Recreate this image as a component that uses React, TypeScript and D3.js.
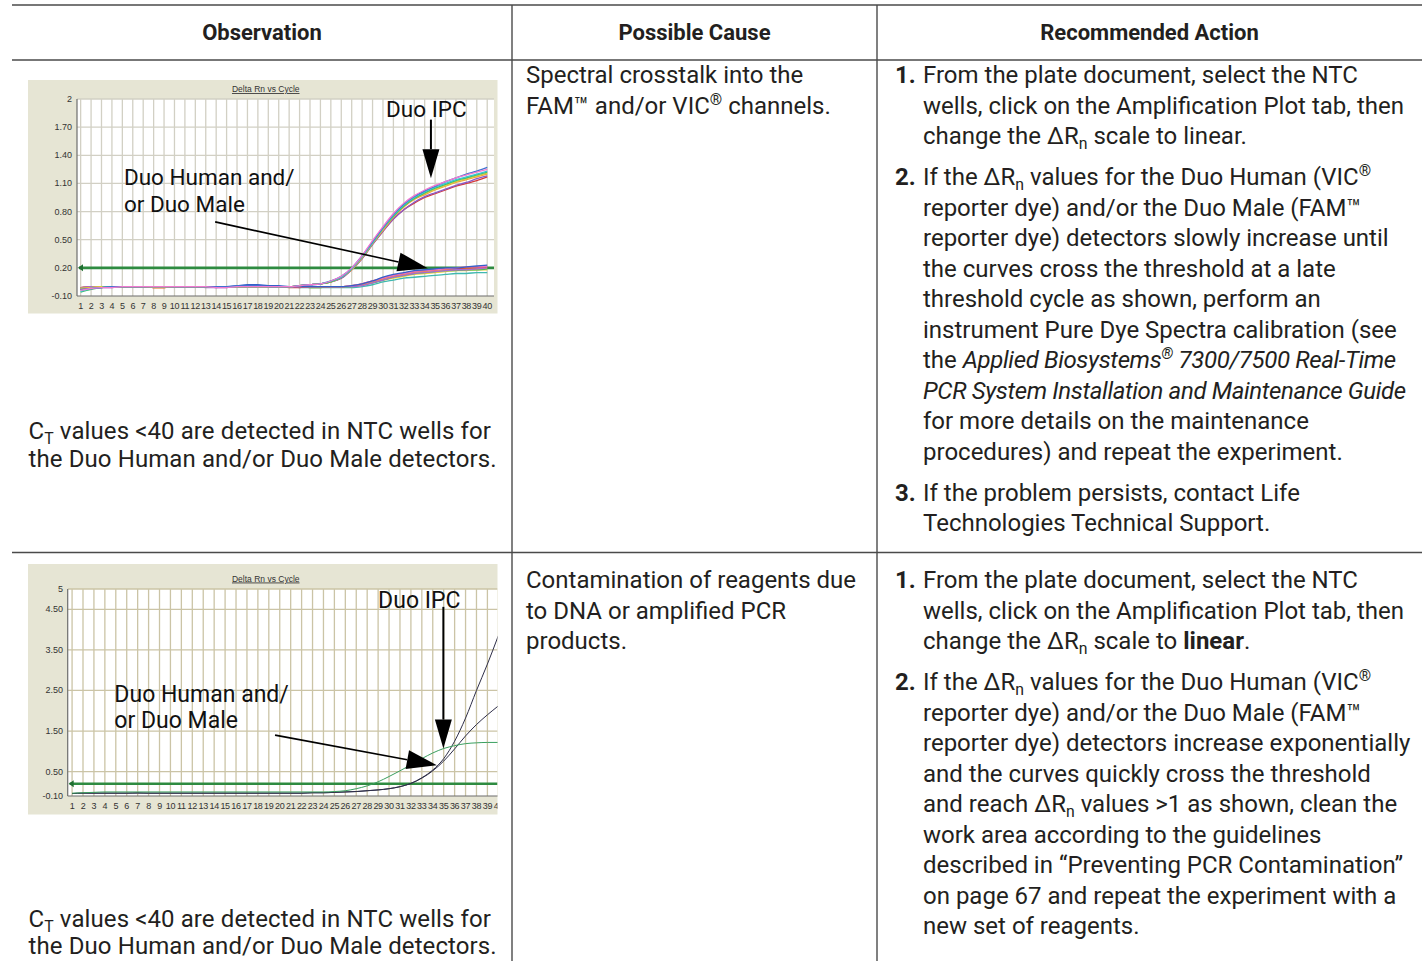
import React from "react";
import * as d3 from "d3";

// ---- data -------------------------------------------------------------

const cycleTicks = [
  1, 2, 3, 4, 5, 6, 7, 8, 9, 10, 11, 12, 13, 14, 15, 16, 17, 18, 19, 20,
  21, 22, 23, 24, 25, 26, 27, 28, 29, 30, 31, 32, 33, 34, 35, 36, 37, 38, 39, 40,
];

const yTicks1 = [-0.1, 0.2, 0.5, 0.8, 1.1, 1.4, 1.7, 2];
const yLabels1 = ["-0.10", "0.20", "0.50", "0.80", "1.10", "1.40", "1.70", "2"];
const yTicks2 = [-0.1, 0.5, 1.5, 2.5, 3.5, 4.5, 5];
const yLabels2 = ["-0.10", "0.50", "1.50", "2.50", "3.50", "4.50", "5"];

const thresholdValue = 0.2;

// plot 1: Duo IPC curves (spectral crosstalk)
const ipcPink = [-0.04, -0.02, -0.01, -0.01, 0, 0, 0, 0, 0, 0, 0, 0, 0, -0.01, -0.01, 0, 0, 0, 0, 0, 0, 0.01, 0.02, 0.03, 0.06, 0.11, 0.2, 0.33, 0.49, 0.64, 0.78, 0.89, 0.97, 1.03, 1.08, 1.12, 1.16, 1.19, 1.22, 1.25];
const ipcBlue = [-0.03, -0.02, -0.01, 0, 0, 0, 0, 0, 0, 0, 0, 0, 0, 0, 0, 0.01, 0.01, 0.01, 0, 0, 0, 0.01, 0.02, 0.03, 0.06, 0.11, 0.2, 0.33, 0.48, 0.63, 0.77, 0.88, 0.96, 1.02, 1.07, 1.12, 1.16, 1.2, 1.23, 1.27];
const ipcCyan = [-0.05, -0.02, -0.01, 0, 0, 0, 0, 0, 0, 0, 0, 0, 0, 0, 0, 0, 0, 0, 0, 0, 0, 0.01, 0.02, 0.03, 0.06, 0.1, 0.19, 0.32, 0.47, 0.62, 0.76, 0.87, 0.95, 1.01, 1.06, 1.1, 1.14, 1.17, 1.2, 1.23];
const ipcGreen = [-0.06, -0.03, -0.01, 0, 0, 0, 0, 0, 0, 0, 0, 0, 0, 0, 0, 0, 0, 0, 0, 0, 0, 0.01, 0.02, 0.03, 0.05, 0.1, 0.19, 0.32, 0.47, 0.62, 0.75, 0.86, 0.94, 1.0, 1.05, 1.09, 1.13, 1.16, 1.19, 1.22];
const ipcYellow = [-0.02, -0.01, 0, 0, 0, 0, 0, 0, 0, 0, 0, 0, 0, 0, 0, 0, 0, 0, 0, 0, 0, 0.01, 0.02, 0.03, 0.05, 0.1, 0.19, 0.31, 0.46, 0.61, 0.75, 0.86, 0.94, 0.99, 1.04, 1.08, 1.12, 1.15, 1.18, 1.21];
const ipcOrange = [-0.02, -0.01, 0, 0, 0, 0, 0, -0.01, -0.01, 0, 0, 0, 0, 0, 0, 0, 0, 0, 0, 0, 0, 0.01, 0.02, 0.03, 0.05, 0.1, 0.18, 0.31, 0.46, 0.6, 0.74, 0.85, 0.93, 0.98, 1.03, 1.07, 1.11, 1.14, 1.17, 1.2];
const ipcRed = [-0.03, -0.02, -0.01, 0, 0, 0, 0, 0, 0, 0, 0, 0, 0, 0, 0, 0, 0, 0, 0, 0, 0, 0.01, 0.02, 0.03, 0.05, 0.09, 0.18, 0.3, 0.45, 0.59, 0.72, 0.82, 0.89, 0.95, 0.99, 1.03, 1.07, 1.1, 1.13, 1.17];
const ipcPurple = [-0.03, -0.02, -0.01, -0.01, 0, 0, 0, 0, 0, 0, 0, 0, 0, -0.01, -0.01, 0, 0, 0, 0, 0, 0, 0.01, 0.02, 0.03, 0.05, 0.09, 0.18, 0.3, 0.45, 0.59, 0.72, 0.82, 0.9, 0.96, 1.0, 1.04, 1.08, 1.11, 1.15, 1.18];

// plot 1: Duo Human / Duo Male curves
const lowBlue = [-0.02, -0.01, 0, 0, 0, 0, 0, 0, 0, 0, 0, 0, 0, 0, 0, 0.01, 0.02, 0.02, 0.01, 0.01, 0, 0, 0, 0, 0, 0, 0.01, 0.03, 0.06, 0.1, 0.13, 0.15, 0.17, 0.18, 0.19, 0.2, 0.2, 0.21, 0.22, 0.23];
const lowRed = [-0.01, 0, 0, 0, 0, 0, 0, -0.01, -0.01, 0, 0, 0, 0, 0, 0, 0, 0, 0, 0, 0, -0.01, -0.01, 0, 0, 0, 0, 0.01, 0.03, 0.06, 0.09, 0.12, 0.14, 0.16, 0.17, 0.18, 0.19, 0.19, 0.2, 0.2, 0.21];
const lowOrange = [-0.01, -0.01, 0, 0, 0, 0, 0, -0.01, -0.01, 0, 0, 0, 0, 0, 0, 0, 0, 0, 0, 0, 0, 0, 0, 0, 0, 0, 0.01, 0.02, 0.05, 0.08, 0.11, 0.13, 0.15, 0.16, 0.17, 0.18, 0.18, 0.19, 0.19, 0.2];
const lowGreen = [-0.03, -0.01, 0, 0, 0, 0, 0, 0, 0, 0, 0, 0, 0, 0, 0, 0, 0, 0, 0, 0, 0, 0, -0.01, -0.01, 0, 0, 0, 0.02, 0.04, 0.07, 0.1, 0.12, 0.14, 0.15, 0.16, 0.17, 0.17, 0.18, 0.18, 0.19];
const lowPink = [-0.02, -0.01, 0, 0, 0, 0, 0, 0, 0, 0, 0, 0, 0, 0, 0, 0, 0, 0, 0, 0, 0, 0, 0, 0, 0, 0, 0.01, 0.03, 0.06, 0.09, 0.12, 0.14, 0.16, 0.17, 0.18, 0.19, 0.2, 0.21, 0.21, 0.22];
const lowYellow = [-0.01, 0, 0, 0, 0, 0, 0, 0, 0, 0, 0, 0, 0, 0, 0, 0, 0, 0, 0, 0, 0, 0, -0.01, -0.01, 0, 0, 0, 0.02, 0.04, 0.07, 0.09, 0.11, 0.13, 0.14, 0.15, 0.16, 0.17, 0.17, 0.18, 0.18];
const lowCyan = [-0.02, -0.01, 0, 0, 0, 0, 0, 0, 0, 0, 0, 0, 0, 0, 0, 0, 0, 0, 0, 0, 0, -0.01, -0.01, -0.01, -0.01, -0.01, -0.01, 0, 0.02, 0.05, 0.07, 0.09, 0.1, 0.11, 0.12, 0.13, 0.14, 0.14, 0.15, 0.15];
const lowPurple = [-0.01, 0, 0, 0, 0, 0, 0, 0, 0, 0, 0, 0, -0.01, -0.01, 0, 0, 0.01, 0.01, 0.01, 0, 0, 0, 0, 0, 0, 0, 0, 0.01, 0.04, 0.07, 0.1, 0.12, 0.14, 0.15, 0.16, 0.17, 0.18, 0.18, 0.19, 0.2];

// plot 2: contamination
const ipc2Green = [-0.03, -0.02, -0.01, 0, 0, 0, 0, 0, 0, 0, 0, 0, 0, 0, 0, 0, 0, 0, 0, 0, 0, 0, 0, 0, 0.01, 0.03, 0.08, 0.15, 0.25, 0.38, 0.52, 0.67, 0.82, 0.96, 1.07, 1.14, 1.19, 1.21, 1.22, 1.22];
const dark2A = [-0.04, -0.03, -0.03, -0.03, -0.03, -0.03, -0.02, -0.03, -0.03, -0.03, -0.03, -0.03, -0.03, -0.03, -0.03, -0.03, -0.03, -0.03, -0.03, -0.03, -0.03, -0.03, -0.02, -0.02, -0.01, 0, 0.01, 0.03, 0.05, 0.08, 0.13, 0.21, 0.35, 0.54, 0.82, 1.25, 1.82, 2.5, 3.15, 3.85];
const dark2B = [-0.04, -0.03, -0.03, -0.03, -0.03, -0.03, -0.03, -0.03, -0.03, -0.03, -0.03, -0.03, -0.03, -0.03, -0.03, -0.03, -0.03, -0.03, -0.03, -0.03, -0.03, -0.03, -0.02, -0.02, -0.01, 0, 0.01, 0.03, 0.05, 0.08, 0.13, 0.21, 0.34, 0.52, 0.76, 1.06, 1.38, 1.66, 1.9, 2.12];

const plot1Series = [
  { color: "#3fb8b0", values: lowCyan },
  { color: "#e8d23a", values: lowYellow },
  { color: "#3dbb5c", values: lowGreen },
  { color: "#f39a3a", values: lowOrange },
  { color: "#e0443a", values: lowRed },
  { color: "#a66ad0", values: lowPurple },
  { color: "#ef6fc4", values: lowPink },
  { color: "#3560c8", values: lowBlue },
  { color: "#d53a3a", values: ipcRed },
  { color: "#8a5ac8", values: ipcPurple },
  { color: "#f0a040", values: ipcOrange },
  { color: "#d8cf3a", values: ipcYellow },
  { color: "#3cbf6a", values: ipcGreen },
  { color: "#38c6d2", values: ipcCyan },
  { color: "#4070d0", values: ipcBlue },
  { color: "#f07ad0", values: ipcPink },
];

const plot2Series = [
  { color: "#2e2e48", values: dark2B },
  { color: "#2e2e48", values: dark2A },
  { color: "#3a9f5e", values: ipc2Green },
];

// table text
const headers = ["Observation", "Possible Cause", "Recommended Action"];
const observationText = [
  "C_{T} values <40 are detected in NTC wells for",
  "the Duo Human and/or Duo Male detectors.",
];
const causeRow1 = ["Spectral crosstalk into the", "FAM™ and/or VIC^{®} channels."];
const causeRow2 = ["Contamination of reagents due", "to DNA or amplified PCR", "products."];
const actionRow1 = [
  {
    num: "1.",
    lines: [
      "From the plate document, select the NTC",
      "wells, click on the Amplification Plot tab, then",
      "change the ΔR_{n} scale to linear.",
    ],
  },
  {
    num: "2.",
    lines: [
      "If the ΔR_{n} values for the Duo Human (VIC^{®}",
      "reporter dye) and/or the Duo Male (FAM™",
      "reporter dye) detectors slowly increase until",
      "the curves cross the threshold at a late",
      "threshold cycle as shown, perform an",
      "instrument Pure Dye Spectra calibration (see",
      "the *Applied Biosystems^{®} 7300/7500 Real-Time*",
      "*PCR System Installation and Maintenance Guide*",
      "for more details on the maintenance",
      "procedures) and repeat the experiment.",
    ],
  },
  {
    num: "3.",
    lines: ["If the problem persists, contact Life", "Technologies Technical Support."],
  },
];
const actionRow2 = [
  {
    num: "1.",
    lines: [
      "From the plate document, select the NTC",
      "wells, click on the Amplification Plot tab, then",
      "change the ΔR_{n} scale to **linear**.",
    ],
  },
  {
    num: "2.",
    lines: [
      "If the ΔR_{n} values for the Duo Human (VIC^{®}",
      "reporter dye) and/or the Duo Male (FAM™",
      "reporter dye) detectors increase exponentially",
      "and the curves quickly cross the threshold",
      "and reach ΔR_{n} values >1 as shown, clean the",
      "work area according to the guidelines",
      "described in “Preventing PCR Contamination”",
      "on page 67 and repeat the experiment with a",
      "new set of reagents.",
    ],
  },
];

// ---- layout -----------------------------------------------------------

const W = 1422;
const H = 961;
const FONT = "Roboto, 'Noto Sans', sans-serif";
const SMALL = "'Liberation Sans', Arial, sans-serif";
const INK = "#231f20";
const RULE = "#4a4a4a";

const colX = [12, 512, 877, W];
const BODY = 24;
const LEAD = 30.5;
const PARA = 10.5;

const chart1 = {
  id: "c1",
  panel: { x0: 28, x1: 497.5, y0: 80, y1: 313.5 },
  plot: { x0: 77, x1: 494, y0: 99, y1: 296 },
  xRange: [77, 494],
  xDomain: [0.65, 40.65],
  yDomain: [-0.1, 2],
  yTicks: yTicks1,
  yLabels: yLabels1,
  labelRight: 72,
  xLabelY: 308.5,
  titleY: 92,
  grid: "#d2d0c4",
  series: plot1Series,
  strokeW: 1.3,
  annoSize: 22.5,
  ipcLabel: { c: 30.3, v: 1.81 },
  ipcArrow: { c: 34.6, from: 1.78, to: 1.155 },
  humanLabel: { c: 5.15, v: [1.08, 0.8] },
  humanArrow: { from: [13.9, 0.69], to: [34.3, 0.195] },
};

const chart2 = {
  id: "c2",
  panel: { x0: 28, x1: 497.5, y0: 564, y1: 814.5 },
  plot: { x0: 67.7, x1: 505, y0: 589, y1: 796 },
  xRange: [67.7, 504.9],
  xDomain: [0.6, 40.6],
  yDomain: [-0.1, 5],
  yTicks: yTicks2,
  yLabels: yLabels2,
  labelRight: 63,
  xLabelY: 809,
  titleY: 581.5,
  grid: "#cbc4a6",
  series: plot2Series,
  strokeW: 1,
  annoSize: 23,
  ipcLabel: { c: 29.0, v: 4.52 },
  ipcArrow: { c: 34.97, from: 4.56, to: 1.07 },
  humanLabel: { c: 4.87, v: [2.22, 1.58] },
  humanArrow: { from: [19.57, 1.4], to: [34.37, 0.66] },
};

// ---- rich text --------------------------------------------------------

type Seg = { t: string; bold: boolean; italic: boolean; sub?: boolean; sup?: boolean };

function parseMarkup(s: string): Seg[] {
  const segs: Seg[] = [];
  let bold = false;
  let italic = false;
  let buf = "";
  const push = (t: string, extra = {}) => {
    if (t) segs.push({ t, bold, italic, ...extra });
  };
  let i = 0;
  while (i < s.length) {
    if (s.startsWith("**", i)) {
      push(buf); buf = ""; bold = !bold; i += 2; continue;
    }
    if (s[i] === "*") {
      push(buf); buf = ""; italic = !italic; i += 1; continue;
    }
    if ((s[i] === "_" || s[i] === "^") && s[i + 1] === "{") {
      push(buf); buf = "";
      const j = s.indexOf("}", i);
      push(s.slice(i + 2, j), s[i] === "_" ? { sub: true } : { sup: true });
      i = j + 1;
      continue;
    }
    buf += s[i];
    i += 1;
  }
  push(buf);
  return segs;
}

const Rich = ({ x, y, src, size = BODY, anchor = "start", weight = 400, spacing = 0 }: any) => {
  const segs = parseMarkup(src);
  let shift = 0;
  return (
    <text x={x} y={y} fontSize={size} fontFamily={FONT} fill={INK} textAnchor={anchor}
      fontWeight={weight} letterSpacing={spacing || undefined} style={{ whiteSpace: "pre" }}>
      {segs.map((s, i) => {
        const target = s.sub ? size * 0.19 : s.sup ? -size * 0.36 : 0;
        const dy = target - shift;
        shift = target;
        return (
          <tspan key={i} dy={dy || undefined} fontWeight={s.bold ? 700 : weight}
            fontStyle={s.italic ? "italic" : "normal"}
            letterSpacing={s.italic ? -0.35 : undefined}
            fontSize={s.sub || s.sup ? size * 0.66 : size}>
            {s.t}
          </tspan>
        );
      })}
    </text>
  );
};

const Steps = ({ steps, y0 }: any) => {
  let y = y0;
  const out: any[] = [];
  steps.forEach((st: any, si: number) => {
    st.lines.forEach((ln: string, li: number) => {
      if (li === 0)
        out.push(
          <text key={`n${si}`} x={895} y={y} fontSize={BODY} fontFamily={FONT}
            fontWeight={700} fill={INK}>{st.num}</text>
        );
      out.push(<Rich key={`${si}-${li}`} x={923} y={y} src={ln} />);
      y += LEAD;
    });
    y += PARA;
  });
  return <g>{out}</g>;
};

// ---- chart ------------------------------------------------------------

const Arrow = ({ p0, p1, len, half, w }: any) => {
  const dx = p1[0] - p0[0];
  const dy = p1[1] - p0[1];
  const d = Math.hypot(dx, dy);
  const ux = dx / d;
  const uy = dy / d;
  const bx = p1[0] - ux * len;
  const by = p1[1] - uy * len;
  const pts = [
    [p1[0], p1[1]],
    [bx - uy * half, by + ux * half],
    [bx + uy * half, by - ux * half],
  ];
  return (
    <g>
      <line x1={p0[0]} y1={p0[1]} x2={bx} y2={by} stroke="#000" strokeWidth={w} />
      <polygon points={pts.map((p) => p.join(",")).join(" ")} fill="#000" />
    </g>
  );
};

const Chart = ({ cfg }: any) => {
  const { panel, plot } = cfg;
  const x = d3.scaleLinear().domain(cfg.xDomain).range(cfg.xRange);
  const y = d3.scaleLinear().domain(cfg.yDomain).range([plot.y1, plot.y0]);
  const line = d3
    .line<number>()
    .x((_, i) => x(cycleTicks[i]))
    .y((v) => y(v))
    .curve(d3.curveMonotoneX);
  const px1 = Math.min(plot.x1, panel.x1);
  const ty = y(thresholdValue);
  const a = cfg.ipcArrow;
  const h = cfg.humanArrow;
  return (
    <g>
      <defs>
        <clipPath id={`${cfg.id}-plot`}>
          <rect x={plot.x0} y={plot.y0 - 2} width={px1 - plot.x0} height={plot.y1 - plot.y0 + 4} />
        </clipPath>
        <clipPath id={`${cfg.id}-panel`}>
          <rect x={panel.x0} y={panel.y0} width={panel.x1 - panel.x0} height={panel.y1 - panel.y0} />
        </clipPath>
      </defs>
      <rect x={panel.x0} y={panel.y0} width={panel.x1 - panel.x0} height={panel.y1 - panel.y0} fill="#e6e5d4" />
      <text x={(panel.x0 + panel.x1) / 2 + 3} y={cfg.titleY} fontSize={8.5} fontFamily={SMALL}
        fill="#333" textAnchor="middle" textDecoration="underline">Delta Rn vs Cycle</text>
      <rect x={plot.x0} y={plot.y0} width={px1 - plot.x0} height={plot.y1 - plot.y0} fill="#fff" />
      <g clipPath={`url(#${cfg.id}-plot)`}>
        {cycleTicks.map((c) => (
          <line key={c} x1={x(c)} x2={x(c)} y1={plot.y0} y2={plot.y1} stroke={cfg.grid} strokeWidth={1.3} />
        ))}
        {cfg.yTicks.slice(1, -1).map((t: number) => (
          <line key={t} x1={plot.x0} x2={px1} y1={y(t)} y2={y(t)} stroke={cfg.grid} strokeWidth={1.3} />
        ))}
        <line x1={plot.x0} x2={px1} y1={plot.y0} y2={plot.y0} stroke={cfg.grid} strokeWidth={1.3} />
      </g>
      <line x1={plot.x0} x2={plot.x0} y1={plot.y0} y2={plot.y1} stroke="#6d6d6d" strokeWidth={1.2} />
      <line x1={plot.x0} x2={px1} y1={plot.y1} y2={plot.y1} stroke="#6d6d6d" strokeWidth={1.2} />
      {cfg.yTicks.map((t: number, i: number) => (
        <text key={t} x={cfg.labelRight} y={y(t) + 3} fontSize={9} fontFamily={SMALL} fill="#333"
          textAnchor="end">{cfg.yLabels[i]}</text>
      ))}
      <g clipPath={`url(#${cfg.id}-panel)`}>
        {cycleTicks.map((c) => (
          <text key={c} x={x(c)} y={cfg.xLabelY} fontSize={9} fontFamily={SMALL} fill="#333"
            textAnchor="middle" letterSpacing={-0.3}>{c}</text>
        ))}
      </g>
      <g clipPath={`url(#${cfg.id}-plot)`}>
        <line x1={plot.x0 + 2} x2={px1} y1={ty} y2={ty} stroke="#2e8b40" strokeWidth={2.6} />
        <polygon points={`${plot.x0 + 1},${ty} ${plot.x0 + 6},${ty - 3.5} ${plot.x0 + 6},${ty + 3.5}`} fill="#1f6e30" />
        {cfg.series.map((s: any, i: number) => (
          <path key={i} d={line(s.values) || ""} fill="none" stroke={s.color} strokeWidth={cfg.strokeW} />
        ))}
      </g>
      <text x={x(cfg.ipcLabel.c)} y={y(cfg.ipcLabel.v)} fontSize={cfg.annoSize} fontFamily={FONT} fill="#111">Duo IPC</text>
      <text x={x(cfg.humanLabel.c)} y={y(cfg.humanLabel.v[0])} fontSize={cfg.annoSize} fontFamily={FONT} fill="#111">Duo Human and/</text>
      <text x={x(cfg.humanLabel.c)} y={y(cfg.humanLabel.v[1])} fontSize={cfg.annoSize} fontFamily={FONT} fill="#111">or Duo Male</text>
      <Arrow p0={[x(a.c), y(a.from)]} p1={[x(a.c), y(a.to)]} len={29} half={8.5} w={2} />
      <Arrow p0={[x(h.from[0]), y(h.from[1])]} p1={[x(h.to[0]), y(h.to[1])]} len={30} half={9.5} w={1.6} />
    </g>
  );
};

// ---- page -------------------------------------------------------------

export default function App() {
  return (
    <svg width={W} height={H} viewBox={`0 0 ${W} ${H}`}
      style={{ position: "absolute", left: 0, top: 0, background: "#fff" }}>
      <rect width={W} height={H} fill="#fff" />
      {/* table rules */}
      <line x1={colX[0]} x2={W} y1={5} y2={5} stroke={RULE} strokeWidth={1.4} />
      <line x1={colX[0]} x2={W} y1={60} y2={60} stroke={RULE} strokeWidth={1.4} />
      <line x1={colX[0]} x2={W} y1={552.5} y2={552.5} stroke={RULE} strokeWidth={1.4} />
      <line x1={colX[1]} x2={colX[1]} y1={5} y2={H} stroke={RULE} strokeWidth={1.4} />
      <line x1={colX[2]} x2={colX[2]} y1={5} y2={H} stroke={RULE} strokeWidth={1.4} />

      {headers.map((t, i) => (
        <text key={t} x={(colX[i] + colX[i + 1]) / 2} y={39.5} fontSize={22} fontWeight={700}
          fontFamily={FONT} fill={INK} textAnchor="middle">{t}</text>
      ))}

      {/* row 1 */}
      <Chart cfg={chart1} />
      {observationText.map((t, i) => (
        <Rich key={`o1${i}`} x={28.5} y={439 + i * 27.5} src={t} spacing={0.1} />
      ))}
      {causeRow1.map((t, i) => (
        <Rich key={`c1${i}`} x={526} y={83 + i * LEAD} src={t} />
      ))}
      <Steps steps={actionRow1} y0={83} />

      {/* row 2 */}
      <Chart cfg={chart2} />
      {observationText.map((t, i) => (
        <Rich key={`o2${i}`} x={28.5} y={927 + i * 27} src={t} spacing={0.1} />
      ))}
      {causeRow2.map((t, i) => (
        <Rich key={`c2${i}`} x={526} y={588 + i * LEAD} src={t} />
      ))}
      <Steps steps={actionRow2} y0={588} />
    </svg>
  );
}
